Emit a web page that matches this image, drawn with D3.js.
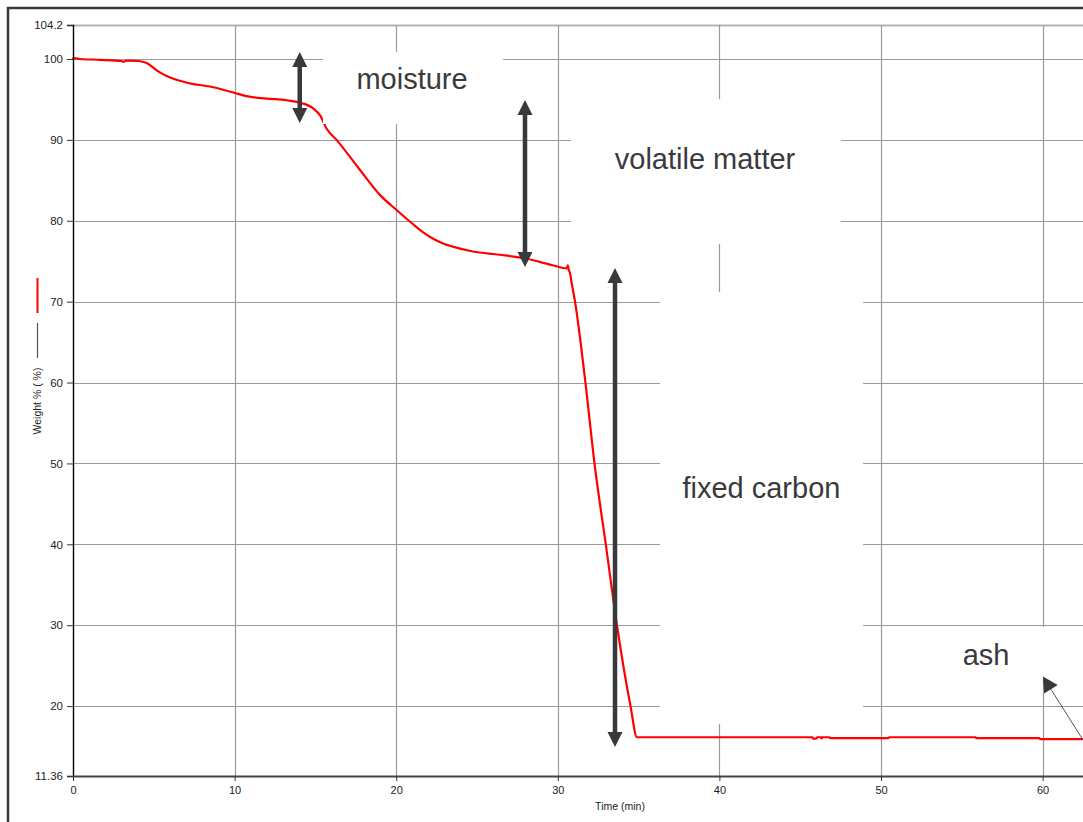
<!DOCTYPE html>
<html>
<head>
<meta charset="utf-8">
<script src="https://cdn.jsdelivr.net/npm/d3@7"></script>
<style>
  html, body { margin: 0; padding: 0; background: #fff; }
  svg { display: block; font-family: "Liberation Sans", Arial, Helvetica, sans-serif; }
</style>
</head>
<body>
<svg id="chart" width="1083" height="822"></svg>
<script>
// Thermogravimetric run: weight % against time (min)
const timeMin = [
  0, 0.02, 0.43, 1.67, 3.01, 3.1, 3.32, 4.04, 4.56, 5.18, 5.79, 6.62, 7.44, 8.47, 9.29,
  10.02, 10.74, 11.98, 13.22, 14.05, 14.86, 15.3, 15.69, 16.31, 17.75, 18.99, 20.04,
  21.03, 21.65, 22.26, 22.9, 23.5, 24.74, 26.41, 28.08, 29.68, 30.55, 30.62, 30.68, 30.75, 30.85,
  31.05, 31.71, 32.27, 32.97, 33.66, 34.5, 34.9,
  45.75, 45.8, 46.0, 46.05, 46.3, 46.33, 46.37, 46.8, 46.85, 50.45, 50.5,
  55.85, 55.9, 59.8, 59.85, 62.6
];
const weightPct = [
  100.0, 100.1, 100.0, 99.9, 99.75, 99.65, 99.8, 99.75, 99.5, 98.6, 97.9, 97.3, 96.9, 96.6, 96.2,
  95.8, 95.4, 95.1, 94.9, 94.6, 93.9, 93.0, 91.4, 90.0, 86.3, 83.2, 81.3,
  79.6, 78.6, 77.8, 77.2, 76.8, 76.2, 75.8, 75.3, 74.5, 74.1, 74.5, 73.9, 73.6, 72.4,
  70.2, 60.0, 50.0, 40.0, 30.0, 20.0, 16.15,
  16.15, 15.98, 15.98, 16.15, 16.15, 16.0, 16.15, 16.15, 16.03, 16.03, 16.15,
  16.15, 16.03, 16.03, 15.91, 15.91
];

const xTicks = [0, 10, 20, 30, 40, 50, 60];
const yTicks = [11.36, 20, 30, 40, 50, 60, 70, 80, 90, 100, 104.2];
const yTickLabels = ["11.36", "20", "30", "40", "50", "60", "70", "80", "90", "100", "104.2"];
const xTitle = "Time (min)";
const yTitle = "Weight % ( %)";

// Stage annotations, anchored in data units (time, weight)
const stageNames = ["moisture", "volatile matter", "fixed carbon", "ash"];
const stageLabelAt = [[20.98, 96.29], [39.11, 86.4], [42.6, 45.73], [56.5, 25.09]];
const stageBoxes = [
  [15.47, 26.61, 100.86, 91.96],
  [30.82, 47.52, 95.05, 77.13],
  [36.32, 48.89, 71.2, 17.8],
  [51.49, 63.0, 29.79, 23.24]
];
const spanArrows = [
  [14.03, 100.86, 92.09],
  [27.97, 94.93, 74.29],
  [33.54, 74.16, 14.95]
];
const ashPointer = [[62.5, 15.82], [60.02, 23.65]];

const svg = d3.select("#chart");
const W = 1083, H = 822;
const plot = { left: 73, right: 1083, top: 25, bottom: 776 };

const x = d3.scaleLinear().domain([0, 62.5]).range([plot.left, plot.right]);
const y = d3.scaleLinear().domain([11.36, 104.2]).range([plot.bottom, plot.top]);

// outer frame
svg.append("rect").attr("x", 0).attr("y", 0).attr("width", W).attr("height", H).attr("fill", "#fff");
svg.append("path")
  .attr("d", `M8,${H + 5} L8,8 L${W + 5},8`)
  .attr("fill", "none").attr("stroke", "#3a3a3a").attr("stroke-width", 2.5);

// gridlines
const grid = svg.append("g");
grid.selectAll("line.h").data(yTicks.filter(v => v !== 11.36)).join("line")
  .attr("x1", plot.left).attr("x2", W + 5)
  .attr("y1", d => Math.round(y(d)) + 0.5).attr("y2", d => Math.round(y(d)) + 0.5)
  .attr("stroke", d => d === 104.2 ? "#b4b4b4" : "#9a9a9a")
  .attr("stroke-width", d => d === 104.2 ? 2 : 1.2);
grid.selectAll("line.v").data(xTicks.filter(v => v !== 0)).join("line")
  .attr("x1", d => Math.round(x(d)) + 0.5).attr("x2", d => Math.round(x(d)) + 0.5)
  .attr("y1", plot.top).attr("y2", plot.bottom)
  .attr("stroke", "#9a9a9a").attr("stroke-width", 1.2);

// weight curve
const pts = timeMin.map((t, i) => [t, weightPct[i]]);
svg.append("path")
  .datum(pts)
  .attr("d", d3.line().x(d => x(d[0])).y(d => y(d[1])).curve(d3.curveMonotoneX))
  .attr("fill", "none").attr("stroke", "#ff0000").attr("stroke-width", 2.2)
  .attr("stroke-linejoin", "round");

// axes
const yAxis = svg.append("g")
  .attr("transform", `translate(${plot.left},0)`)
  .call(d3.axisLeft(y).tickValues(yTicks).tickSize(6).tickPadding(4)
    .tickFormat((d, i) => yTickLabels[i]));
yAxis.select(".domain").attr("stroke", "#000").attr("stroke-width", 1.4);
yAxis.selectAll(".tick line").attr("stroke", "#333");
yAxis.selectAll(".tick text").attr("font-size", 11.5).attr("fill", "#222")
  .attr("font-family", "'Liberation Sans', Arial, sans-serif");

const xAxis = svg.append("g")
  .attr("transform", `translate(0,${plot.bottom})`)
  .call(d3.axisBottom(x).tickValues(xTicks).tickSize(5).tickPadding(5).tickFormat(d3.format("d")));
xAxis.select(".domain").attr("stroke", "#444").attr("stroke-width", 2)
  .attr("d", `M${plot.left},0.5H${W + 5}`);
xAxis.selectAll(".tick line").attr("stroke", "#333");
xAxis.selectAll(".tick text").attr("font-size", 11).attr("fill", "#222")
  .attr("font-family", "'Liberation Sans', Arial, sans-serif");

// axis titles
svg.append("text")
  .attr("x", 620).attr("y", 810)
  .attr("text-anchor", "middle").attr("font-size", 10.5).attr("fill", "#222")
  .text(xTitle);

const yt = svg.append("g").attr("transform", "translate(37,401) rotate(-90)");
yt.append("text")
  .attr("x", 0).attr("y", 4)
  .attr("text-anchor", "middle").attr("font-size", 10.5).attr("fill", "#222")
  .text(yTitle);
yt.append("line").attr("x1", 43).attr("x2", 78).attr("y1", 0.5).attr("y2", 0.5)
  .attr("stroke", "#555").attr("stroke-width", 1.2);
yt.append("line").attr("x1", 88).attr("x2", 123).attr("y1", 0.5).attr("y2", 0.5)
  .attr("stroke", "#ff0000").attr("stroke-width", 2);

// white label panels
svg.append("g").selectAll("rect").data(stageBoxes).join("rect")
  .attr("x", d => x(d[0])).attr("width", d => x(d[1]) - x(d[0]))
  .attr("y", d => y(d[2])).attr("height", d => y(d[3]) - y(d[2]))
  .attr("fill", "#fff");

// double-headed span arrows
const ink = "#38383d";
const headL = 15, headW = 15, shaft = 4.5;
const arrows = svg.append("g");
spanArrows.forEach(([t, wTop, wBot]) => {
  const cx = x(t), yTop = y(wTop), yBot = y(wBot);
  arrows.append("line")
    .attr("x1", cx).attr("x2", cx).attr("y1", yTop + headL - 1).attr("y2", yBot - headL + 1)
    .attr("stroke", ink).attr("stroke-width", shaft);
  arrows.append("path")
    .attr("d", `M${cx},${yTop} L${cx + headW / 2},${yTop + headL} L${cx - headW / 2},${yTop + headL} Z`)
    .attr("fill", ink);
  arrows.append("path")
    .attr("d", `M${cx},${yBot} L${cx + headW / 2},${yBot - headL} L${cx - headW / 2},${yBot - headL} Z`)
    .attr("fill", ink);
});

// ash pointer
{
  const [p0, p1] = ashPointer.map(d => [x(d[0]), y(d[1])]);
  const dx = p1[0] - p0[0], dy = p1[1] - p0[1];
  const len = Math.hypot(dx, dy), ux = dx / len, uy = dy / len;
  const bx = p1[0] - ux * 15, by = p1[1] - uy * 15;
  arrows.append("line")
    .attr("x1", p0[0]).attr("y1", p0[1]).attr("x2", bx).attr("y2", by)
    .attr("stroke", "#555").attr("stroke-width", 1);
  arrows.append("path")
    .attr("d", `M${p1[0]},${p1[1]} L${bx - uy * 8},${by + ux * 8} L${bx + uy * 8},${by - ux * 8} Z`)
    .attr("fill", ink);
}

// stage labels
svg.append("g").selectAll("text").data(stageNames).join("text")
  .attr("x", (d, i) => x(stageLabelAt[i][0]))
  .attr("y", (d, i) => y(stageLabelAt[i][1]))
  .attr("text-anchor", "middle")
  .attr("font-size", 29)
  .attr("fill", "#3a3a3c")
  .text(d => d);
</script>
</body>
</html>
